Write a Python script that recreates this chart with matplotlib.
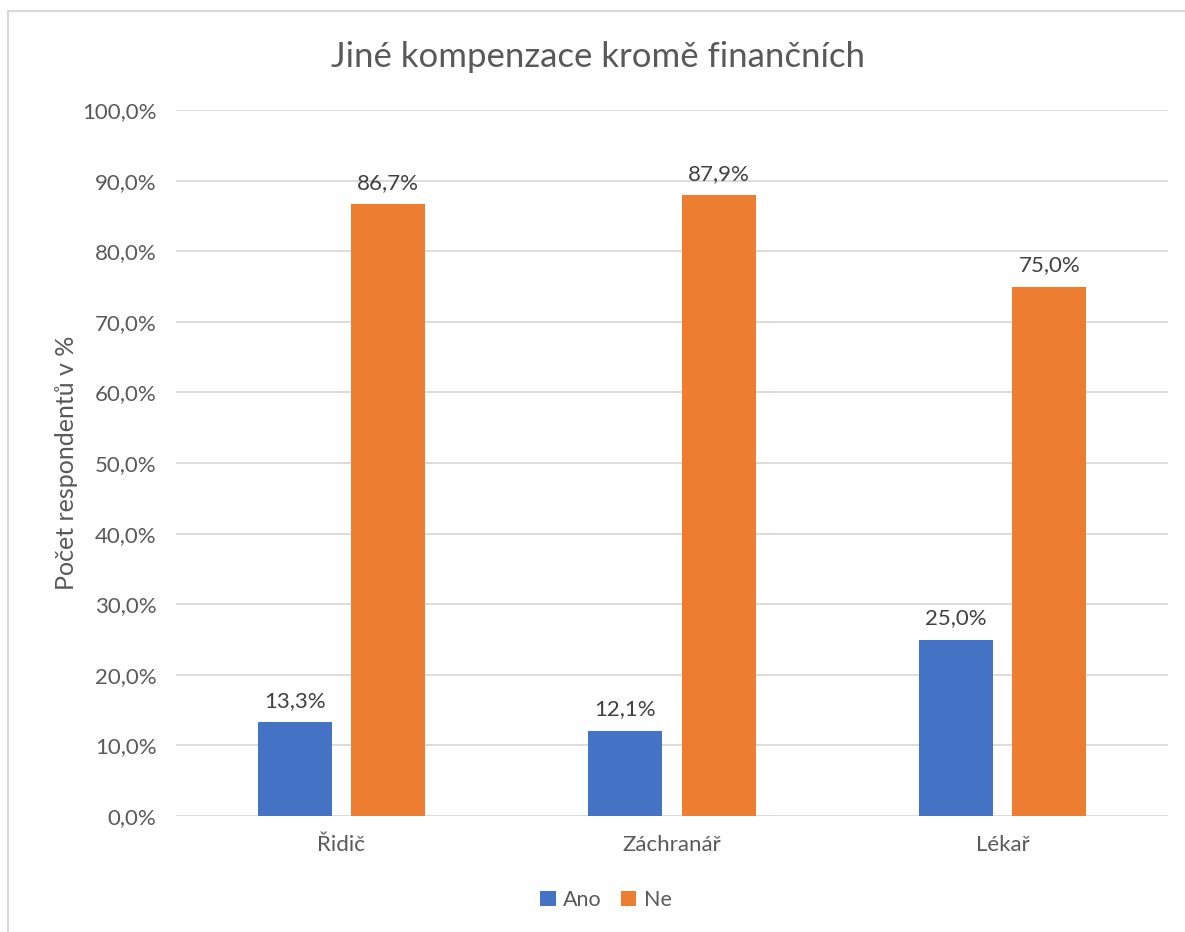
import numpy as np
import matplotlib.pyplot as plt
from matplotlib.patches import Rectangle

categories = ['Řidič', 'Záchranář', 'Lékař']
ano = [13.3, 12.1, 25.0]
ne = [86.7, 87.9, 75.0]
yticks = [0, 10, 20, 30, 40, 50, 60, 70, 80, 90, 100]

plt.rcParams['font.family'] = ['Lato', 'DejaVu Sans']
gray = '#595959'

fig = plt.figure(figsize=(11.85, 9.32), dpi=100)
ax = fig.add_axes([176/1185, 1-816/932, 992/1185, 706/932])

x = np.arange(len(categories))
w = 0.224
off = 0.141
b1 = ax.bar(x - off, ano, w, color='#4472C4', label='Ano', zorder=3)
b2 = ax.bar(x + off, ne, w, color='#ED7D31', label='Ne', zorder=3)

for bars, vals in ((b1, ano), (b2, ne)):
    for b, v in zip(bars, vals):
        ax.annotate(f'{v:.1f}%'.replace('.', ','), (b.get_x() + b.get_width()/2, v),
                    xytext=(0, 8), textcoords='offset points', ha='center', va='bottom',
                    fontsize=16, color='#404040')

ax.set_xlim(-0.5, 2.5)
ax.set_ylim(0, 100)
ax.set_yticks(yticks)
ax.set_yticklabels([f'{t:.1f}%'.replace('.', ',') for t in yticks], fontsize=16, color=gray)
ax.set_xticks(x)
ax.set_xticklabels(categories, fontsize=16, color=gray)
ax.tick_params(length=0, pad=14)
ax.tick_params(axis='x', pad=14)
ax.grid(axis='y', color='#D9D9D9', linewidth=1.3, zorder=0)
for s in ax.spines.values():
    s.set_visible(False)
ax.set_ylabel('Počet respondentů v %', fontsize=18, color=gray, labelpad=3)

fig.text(0.505, 1-57/932, 'Jiné kompenzace kromě finančních', ha='center', va='center',
         fontsize=25, color=gray)
fig.legend(loc='center', bbox_to_anchor=(606/1185, 1-900/932), ncol=2, frameon=False,
           fontsize=15.5, labelcolor=gray, handlelength=0.7, handleheight=0.7,
           handletextpad=0.35, columnspacing=0.9)

fig.patches.append(Rectangle((8/1185, -0.1), 1.2, 1-11/932 + 0.1, transform=fig.transFigure,
                             fill=False, edgecolor='#D9D9D9', linewidth=1.5))

fig.savefig('out.png', dpi=100)
